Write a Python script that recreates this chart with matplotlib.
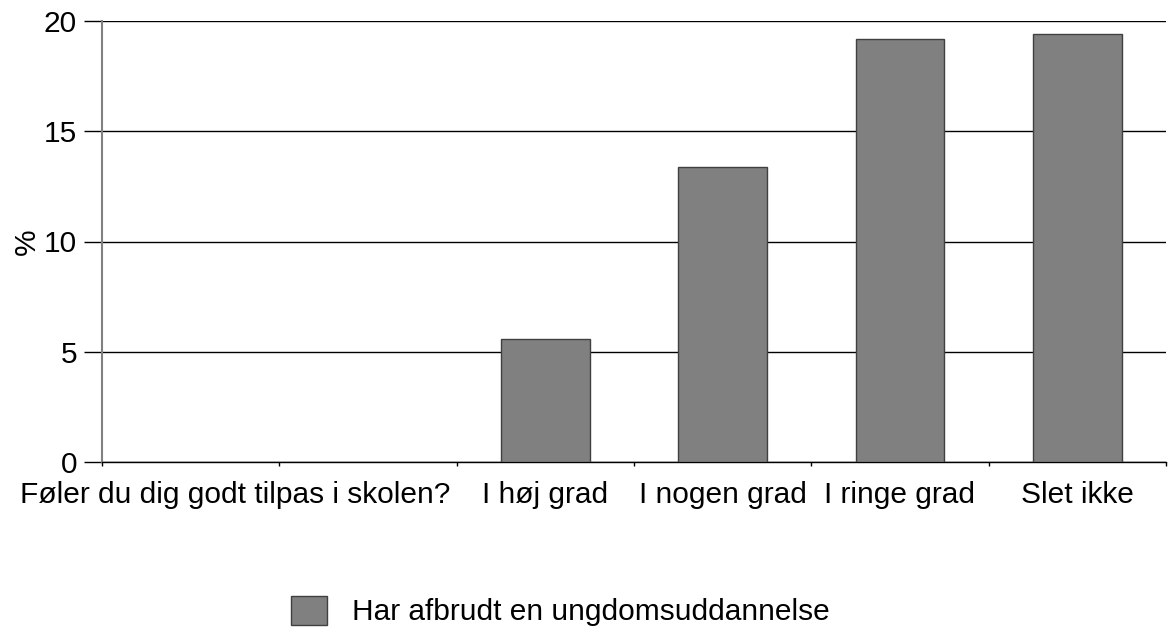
import matplotlib
matplotlib.use('Agg')
import matplotlib.pyplot as plt
import numpy as np

plt.rcParams['font.family'] = ['Liberation Sans', 'DejaVu Sans']

# data
categories = ['Føler du dig godt tilpas i skolen?', '', 'I høj grad', 'I nogen grad', 'I ringe grad', 'Slet ikke']
values = [np.nan, np.nan, 5.6, 13.4, 19.2, 19.4]
series_name = 'Har afbrudt en ungdomsuddannelse'
yticks = [0, 5, 10, 15, 20]

fig = plt.figure(figsize=(11.68, 6.29), dpi=100)
ax = fig.add_axes([102 / 1168, 1 - 462 / 629, 1064 / 1168, 441 / 629])

x = np.arange(len(categories))
bars = ax.bar(x, values, width=0.5, color='#808080', edgecolor='#404040', linewidth=1,
              label=series_name, zorder=3)

ax.set_xlim(-0.5, len(categories) - 0.5)
ax.set_ylim(0, 20)
ax.set_yticks(yticks)
ax.yaxis.grid(True, color='black', linewidth=1, zorder=0)
ax.tick_params(axis='y', length=13, width=1, color='black', pad=5, labelsize=21.5)

# category labels (first one sits a bit right of its slot)
label_pos = [0.25, 1, 2, 3, 4, 5]
ax.set_xticks(label_pos)
ax.set_xticklabels(categories)
ax.tick_params(axis='x', which='major', length=0, pad=14, labelsize=21.5)
ax.set_xticks(np.arange(len(categories) + 1) - 0.5, minor=True)
ax.tick_params(axis='x', which='minor', length=3, width=1, color='black')

ax.spines['top'].set_visible(False)
ax.spines['right'].set_visible(False)
ax.spines['left'].set_color('#808080')
ax.spines['left'].set_linewidth(1.5)
ax.spines['bottom'].set_color('black')
ax.spines['bottom'].set_linewidth(1)

ax.set_ylabel('%', fontsize=21.5, labelpad=2)

fig.legend(handles=[bars], labels=[series_name], loc='upper left',
           bbox_to_anchor=(291 / 1168, 1 - 596 / 629), frameon=False,
           borderpad=0, borderaxespad=0, handlelength=1.2, handleheight=1.1,
           handletextpad=0.85, fontsize=21.5)

fig.savefig('out.png', dpi=100)
